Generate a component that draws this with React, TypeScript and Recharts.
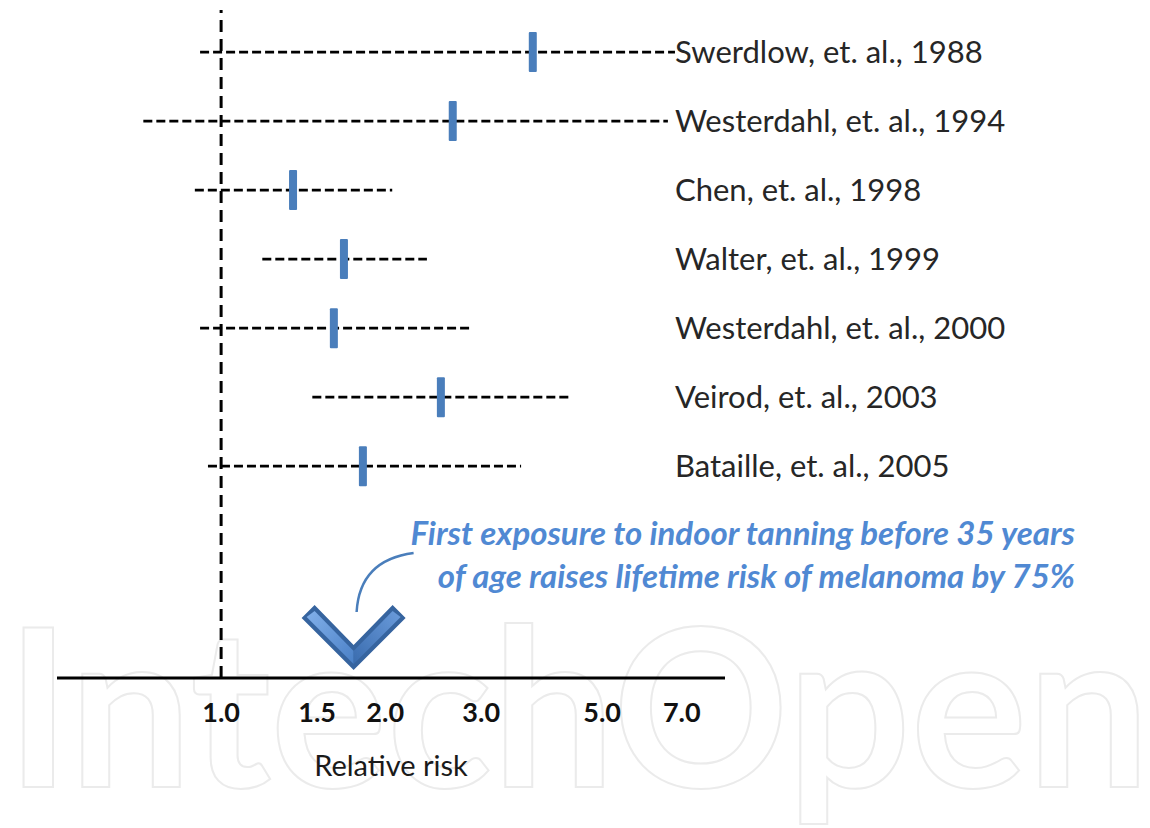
import React from "react";
import {
  ScatterChart,
  Scatter,
  XAxis,
  YAxis,
  ReferenceLine,
  ReferenceDot,
} from "recharts";

// Forest plot: indoor tanning and melanoma, relative risk (log scale)

const studies = [
  "Swerdlow, et. al., 1988",
  "Westerdahl, et. al., 1994",
  "Chen, et. al., 1998",
  "Walter, et. al., 1999",
  "Westerdahl, et. al., 2000",
  "Veirod, et. al., 2003",
  "Bataille, et. al., 2005",
];
const rowIndex = [1, 2, 3, 4, 5, 6, 7];
const relativeRisk = [3.73, 2.66, 1.355, 1.68, 1.61, 2.53, 1.82];
const ciLow = [0.915, 0.72, 0.895, 1.19, 0.915, 1.47, 0.946];
const ciHigh = [6.8, 6.6, 2.06, 2.385, 2.85, 4.35, 3.55];

const xTicks = [1, 1.5, 2, 3, 5, 7];
const pooledRisk = 1.75;
const axisTitle = "Relative risk";
const noteLines = [
  "First exposure to indoor tanning before 35 years",
  "of age raises lifetime risk of melanoma by 75%",
];
const watermark = "IntechOpen";

const X_DOMAIN: [number, number] = [0.5, 8.4];
const Y_DOMAIN: [number, number] = [0.39, 10.07];

const MARKER = "#4a7ebb";
const NOTE = "#5089d3";
const FONT = "Lato, 'Open Sans', sans-serif";

const rows = studies.map((name, i) => ({
  name,
  row: rowIndex[i],
  rr: relativeRisk[i],
  lo: ciLow[i],
  hi: ciHigh[i],
}));

function RiskMarker(props: { cx?: number; cy?: number }) {
  const { cx, cy } = props;
  if (cx === undefined || cy === undefined) return <g />;
  return <rect x={cx - 4} y={cy - 20} width={8} height={40} rx={1} fill={MARKER} />;
}

function StudyTick(props: { x?: number; y?: number; payload?: { value: number } }) {
  const { x = 0, y = 0, payload } = props;
  const r = rows.find((d) => d.row === payload?.value);
  return (
    <text
      x={x - 58}
      y={y}
      dy="0.36em"
      textAnchor="start"
      fontFamily={FONT}
      fontSize={31}
      fill="#262626"
    >
      {r ? r.name : ""}
    </text>
  );
}

// chevron pointing at the pooled estimate + callout text
function Chevron(props: { cx?: number; cy?: number }) {
  const { cx = 0, cy = 0 } = props;
  const tx = cx;
  const ty = cy - 8;
  const p = (pts: number[][]) => pts.map(([a, b]) => `${tx + a},${ty + b}`).join(" ");
  const outer = p([[-52, -52], [0, 0], [52, -52], [39, -65], [0, -25], [-39, -65]]);
  const left = p([[-47, -53], [0, -6], [0, -19], [-39, -59]]);
  const right = p([[0, -6], [47, -53], [39, -59], [0, -19]]);
  return (
    <g>
      <defs>
        <linearGradient id="chevL" x1="0" y1="0" x2="1" y2="1">
          <stop offset="0%" stopColor="#82b0ea" />
          <stop offset="100%" stopColor="#4a80c6" />
        </linearGradient>
        <linearGradient id="chevR" x1="1" y1="0" x2="0" y2="1">
          <stop offset="0%" stopColor="#6a9bdb" />
          <stop offset="100%" stopColor="#3a6cae" />
        </linearGradient>
      </defs>
      <polygon points={outer} fill="#36649f" />
      <polygon points={left} fill="url(#chevL)" />
      <polygon points={right} fill="url(#chevR)" />
      <path
        d={`M ${tx + 3} ${ty - 58} Q ${tx + 6} ${ty - 110} ${tx + 60} ${ty - 117}`}
        fill="none"
        stroke={MARKER}
        strokeWidth={2.5}
      />
      {noteLines.map((line, i) => (
        <text
          key={i}
          x={1075}
          y={545 + i * 43}
          textAnchor="end"
          fontFamily={FONT}
          fontStyle="italic"
          fontWeight={700}
          fontSize={33}
          fill={NOTE}
        >
          {line}
        </text>
      ))}
    </g>
  );
}

export default function App() {
  return (
    <div style={{ position: "absolute", left: 0, top: 0, width: 1150, height: 828, background: "#fff" }}>
      <svg width={1150} height={828} style={{ position: "absolute", left: 0, top: 0 }}>
        <text
          x={6}
          y={787}
          fontFamily={FONT}
          fontWeight={700}
          fontSize={221}
          textLength={1144}
          lengthAdjust="spacingAndGlyphs"
          fill="none"
          stroke="#ebebeb"
          strokeWidth={2}
        >
          {watermark}
        </text>
      </svg>
      <div style={{ position: "absolute", left: 0, top: 0 }}>
        <ScatterChart
          width={1150}
          height={828}
          margin={{ top: 10, right: 0, left: 57, bottom: 40 }}
        >
          <XAxis
            dataKey="rr"
            type="number"
            scale="log"
            domain={X_DOMAIN}
            allowDataOverflow
            ticks={xTicks}
            tickFormatter={(v: number) => v.toFixed(1)}
            height={110}
            tickSize={0}
            tickMargin={25}
            axisLine={{ stroke: "#000", strokeWidth: 3 }}
            tickLine={false}
            tick={{ fontSize: 27, fontWeight: 700, fill: "#111", fontFamily: FONT }}
            label={{
              value: axisTitle,
              position: "insideBottom",
              offset: 12,
              fontSize: 29,
              fill: "#1a1a1a",
              fontFamily: FONT,
            }}
          />
          <YAxis
            dataKey="row"
            type="number"
            domain={Y_DOMAIN}
            reversed
            orientation="right"
            width={425}
            ticks={rowIndex}
            axisLine={false}
            tickLine={false}
            tick={<StudyTick />}
          />
          <ReferenceLine x={1} stroke="#000" strokeWidth={3} strokeDasharray="12 7" />
          <Scatter data={rows} shape={<RiskMarker />} isAnimationActive={false} />
          {rows.map((d) => (
            <ReferenceLine
              key={d.name}
              segment={[
                { x: d.lo, y: d.row },
                { x: d.hi, y: d.row },
              ]}
              stroke="#000"
              strokeWidth={2.8}
              strokeDasharray="9 4"
            />
          ))}
          <ReferenceDot x={pooledRisk} y={Y_DOMAIN[1]} shape={<Chevron />} />
        </ScatterChart>
      </div>
    </div>
  );
}
